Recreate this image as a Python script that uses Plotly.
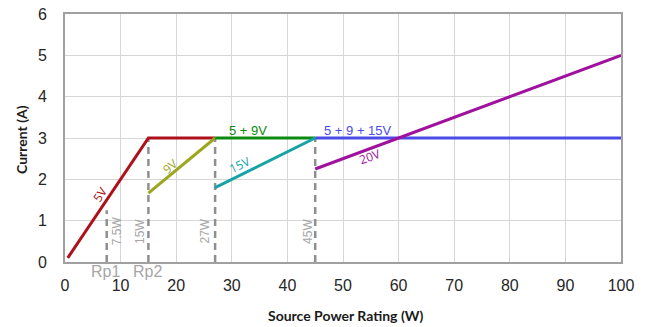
import plotly.graph_objects as go

# Data
p_5v = [0.5, 15, 27]
i_5v = [0.1, 3, 3]
p_9v = [15, 27]
i_9v = [1.667, 3]
p_5_9 = [27, 45]
i_5_9 = [3, 3]
p_15v = [27, 45]
i_15v = [1.8, 3]
p_5_9_15 = [45, 100]
i_5_9_15 = [3, 3]
p_20v = [45, 100]
i_20v = [2.25, 5]

marker_x = [7.5, 15, 27, 45]
marker_top = [1.25, 3, 3, 3]
marker_labels = ["7.5W", "15W", "27W", "45W"]
rp_x = [7.2, 14.8]
rp_labels = ["Rp1", "Rp2"]

x_ticks = [0, 10, 20, 30, 40, 50, 60, 70, 80, 90, 100]
y_ticks = [0, 1, 2, 3, 4, 5, 6]

fig = go.Figure()

# dashed markers
for mx, mt in zip(marker_x, marker_top):
    fig.add_trace(go.Scatter(x=[mx, mx], y=[0, mt], mode="lines",
                             line=dict(color="#8f8f8f", width=2.5, dash="7px,5px"),
                             hoverinfo="skip", showlegend=False))

series = [
    (p_5_9_15, i_5_9_15, "#4b4be6"),
    (p_20v, i_20v, "#a0129e"),
    (p_5v, i_5v, "#ad1119"),
    (p_9v, i_9v, "#9ca61e"),
    (p_5_9, i_5_9, "#0b8a10"),
    (p_15v, i_15v, "#15a3a6"),
]
for xs, ys, c in series:
    fig.add_trace(go.Scatter(x=xs, y=ys, mode="lines",
                             line=dict(color=c, width=3),
                             showlegend=False))

ann = []
lab_font = "Liberation Sans"
C = dict(xanchor="center", yanchor="middle", showarrow=False)
# marker labels
label_pos = [(9.3, 0.76), (13.6, 0.74), (25.2, 0.74), (43.8, 0.74)]
for (lx, ly), t in zip(label_pos, marker_labels):
    ann.append(dict(x=lx, y=ly, text=t, textangle=-90, **C,
                    font=dict(family=lab_font, size=12, color="#a6a6a6")))
# Rp labels
for lx, t in zip(rp_x, rp_labels):
    ann.append(dict(x=lx, xref="x", y=-0.038, yref="paper", text=t, **C,
                    font=dict(family=lab_font, size=16, color="#a6a6a6")))
# line labels
ann.append(dict(x=6.3, y=1.63, text="5V", textangle=-56, **C,
                font=dict(family="Open Sans", size=12, color="#ad1119")))
ann.append(dict(x=18.9, y=2.31, text="9V", textangle=-40, **C,
                font=dict(family="Open Sans", size=12, color="#9ca61e")))
ann.append(dict(x=31.5, y=2.36, text="15V", textangle=-26, **C,
                font=dict(family="Open Sans", size=12, color="#15a3a6")))
ann.append(dict(x=54.9, y=2.56, text="20V", textangle=-20, **C,
                font=dict(family="Open Sans", size=12, color="#a0129e")))
ann.append(dict(x=33, y=3.17, text="5 + 9V", **C,
                font=dict(family=lab_font, size=13, color="#0b8a10")))
ann.append(dict(x=52.7, y=3.17, text="5 + 9 + 15V", **C,
                font=dict(family=lab_font, size=13, color="#4b4be6")))
# axis titles
ann.append(dict(x=0.504, xref="paper", y=-0.214, yref="paper",
                text="<b>Source Power Rating (W)</b>", **C,
                font=dict(family="Lato", size=14, color="#1a1a1a")))
ann.append(dict(x=-0.0773, xref="paper", y=0.492, yref="paper",
                text="<b>Current (A)</b>", textangle=-90, **C,
                font=dict(family="Lato", size=14, color="#1a1a1a")))

fig.update_layout(
    width=650, height=327,
    margin=dict(l=65, r=29, t=14, b=65),
    paper_bgcolor="white", plot_bgcolor="white",
    annotations=ann,
    xaxis=dict(range=[0, 100], tickvals=x_ticks, showgrid=True,
               gridcolor="#d6d6d6", gridwidth=1, automargin=False,
               showline=True, linecolor="#a0a0a0", linewidth=2, mirror=True,
               zeroline=False, ticks="", ticklabelstandoff=8,
               tickfont=dict(family="Liberation Sans", size=16, color="#262626")),
    yaxis=dict(range=[0, 6], tickvals=y_ticks, showgrid=True,
               gridcolor="#d6d6d6", gridwidth=1, automargin=False,
               showline=True, linecolor="#a0a0a0", linewidth=2, mirror=True,
               zeroline=False, ticks="", ticklabelstandoff=13,
               tickfont=dict(family="Liberation Sans", size=16, color="#262626")),
)

fig.write_html("out.html")
